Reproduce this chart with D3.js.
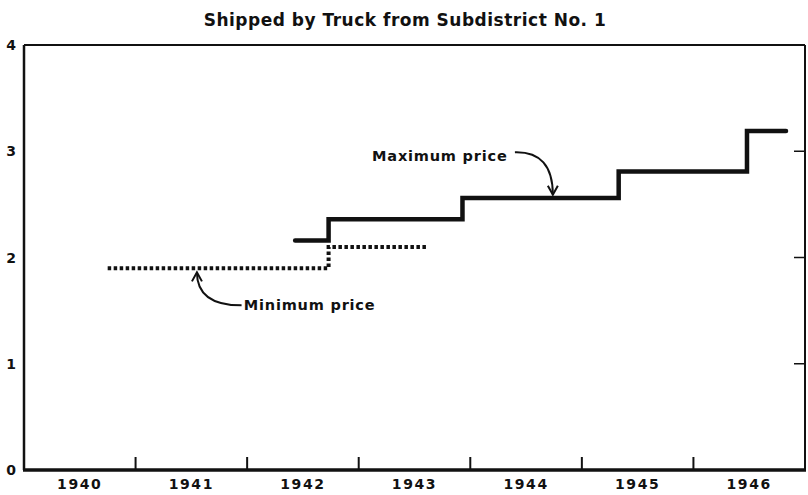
<!DOCTYPE html>
<html>
<head>
<meta charset="utf-8">
<script src="https://d3js.org/d3.v7.min.js"></script>
<style>
  body { margin: 0; background: #fff; }
  svg { display: block; }
  text { font-family: "DejaVu Sans", sans-serif; font-weight: bold; fill: #111; }
</style>
</head>
<body>
<svg id="chart" width="808" height="495"></svg>
<script>
// data
var title = "Shipped by Truck from Subdistrict No. 1";
var years = [1940, 1941, 1942, 1943, 1944, 1945, 1946];
var yTicks = [0, 1, 2, 3, 4];

// step lines: times where the price changes (last entry = end of line) and the price levels
var maxTimes = [1942.43, 1942.73, 1943.93, 1945.33, 1946.48, 1946.83];
var maxPrices = [2.16, 2.36, 2.56, 2.81, 3.19];
var minTimes = [1940.75, 1942.73, 1943.62];
var minPrices = [1.90, 2.10];

var svg = d3.select("#chart");

var x = d3.scaleLinear().domain([1940, 1947]).range([24, 805]);
var y = d3.scaleLinear().domain([0, 4]).range([470, 45]);

function steps(times, prices) {
    var pts = prices.map(function(p, i) { return [times[i], p]; });
    pts.push([times[times.length - 1], prices[prices.length - 1]]);
    return pts;
}

var line = d3.line()
    .x(function(d) { return x(d[0]); })
    .y(function(d) { return y(d[1]); })
    .curve(d3.curveStepAfter);

// title
svg.append("text")
    .attr("x", 405)
    .attr("y", 26)
    .attr("text-anchor", "middle")
    .attr("font-size", 17)
    .style("letter-spacing", "0.5px")
    .text(title);

// frame
svg.append("line").attr("x1", x(1940)).attr("x2", x(1947)).attr("y1", y(4)).attr("y2", y(4))
    .attr("stroke", "#111").attr("stroke-width", 2);
svg.append("line").attr("x1", x(1940)).attr("x2", x(1940)).attr("y1", y(4)).attr("y2", y(0))
    .attr("stroke", "#111").attr("stroke-width", 2.5);
svg.append("line").attr("x1", x(1947)).attr("x2", x(1947)).attr("y1", y(4)).attr("y2", y(0))
    .attr("stroke", "#111").attr("stroke-width", 2);

// bottom axis: ticks between years, labels centred in each year
var xAxis = svg.append("g");
xAxis.append("line").attr("x1", x(1940) - 1).attr("x2", x(1947) + 1).attr("y1", y(0)).attr("y2", y(0))
    .attr("stroke", "#111").attr("stroke-width", 3.5);
xAxis.selectAll(".tick")
    .data(years.slice(1))
    .enter().append("line")
    .attr("class", "tick")
    .attr("x1", function(d) { return x(d); })
    .attr("x2", function(d) { return x(d); })
    .attr("y1", y(0))
    .attr("y2", y(0) - 13)
    .attr("stroke", "#111").attr("stroke-width", 2);
xAxis.selectAll(".yr")
    .data(years)
    .enter().append("text")
    .attr("class", "yr")
    .attr("x", function(d) { return x(d + 0.5); })
    .attr("y", 489)
    .attr("text-anchor", "middle")
    .attr("font-size", 14)
    .style("letter-spacing", "1.6px")
    .text(function(d) { return d; });

// left labels and right inner ticks
svg.selectAll(".ylab")
    .data(yTicks)
    .enter().append("text")
    .attr("class", "ylab")
    .attr("x", 11)
    .attr("y", function(d) { return y(d) + 5; })
    .attr("text-anchor", "middle")
    .attr("font-size", 14)
    .text(function(d) { return d; });
svg.selectAll(".rtick")
    .data(yTicks.slice(1, 4))
    .enter().append("line")
    .attr("class", "rtick")
    .attr("x1", x(1947) - 11)
    .attr("x2", x(1947))
    .attr("y1", function(d) { return y(d); })
    .attr("y2", function(d) { return y(d); })
    .attr("stroke", "#111").attr("stroke-width", 1.5);

// minimum price (dotted)
svg.append("path")
    .datum(steps(minTimes, minPrices))
    .attr("d", line)
    .attr("fill", "none")
    .attr("stroke", "#111")
    .attr("stroke-width", 4)
    .attr("stroke-dasharray", "3.5 2.5");

// maximum price (heavy)
svg.append("path")
    .datum(steps(maxTimes, maxPrices))
    .attr("d", line)
    .attr("fill", "none")
    .attr("stroke", "#111")
    .attr("stroke-width", 4.5)
    .attr("stroke-linecap", "round")
    .attr("stroke-linejoin", "miter");

// annotations
function arrow(x0, y0, cx, cy, x1, y1, dir) {
    var p = d3.path();
    p.moveTo(x0, y0);
    p.quadraticCurveTo(cx, cy, x1, y1);
    svg.append("path").attr("d", p.toString())
        .attr("fill", "none").attr("stroke", "#111").attr("stroke-width", 2);
    var h = d3.path();
    if (dir === "down") {
        h.moveTo(x1 - 5, y1 - 9); h.lineTo(x1, y1); h.lineTo(x1 + 5, y1 - 9);
    } else {
        h.moveTo(x1 - 5, y1 + 9); h.lineTo(x1, y1); h.lineTo(x1 + 5, y1 + 9);
    }
    svg.append("path").attr("d", h.toString())
        .attr("fill", "none").attr("stroke", "#111").attr("stroke-width", 2);
}

svg.append("text")
    .attr("x", x(1943.12))
    .attr("y", y(2.96) + 5)
    .attr("font-size", 14.5)
    .style("letter-spacing", "0.8px")
    .text("Maximum price");
arrow(x(1944.4), y(2.99), x(1944.74), y(3.0), x(1944.74), y(2.59), "down");

svg.append("text")
    .attr("x", x(1941.97))
    .attr("y", y(1.55) + 5)
    .attr("font-size", 14.5)
    .style("letter-spacing", "0.8px")
    .text("Minimum price");
arrow(x(1941.95), y(1.55), x(1941.55), y(1.55), x(1941.55), y(1.86), "up");
</script>
</body>
</html>
